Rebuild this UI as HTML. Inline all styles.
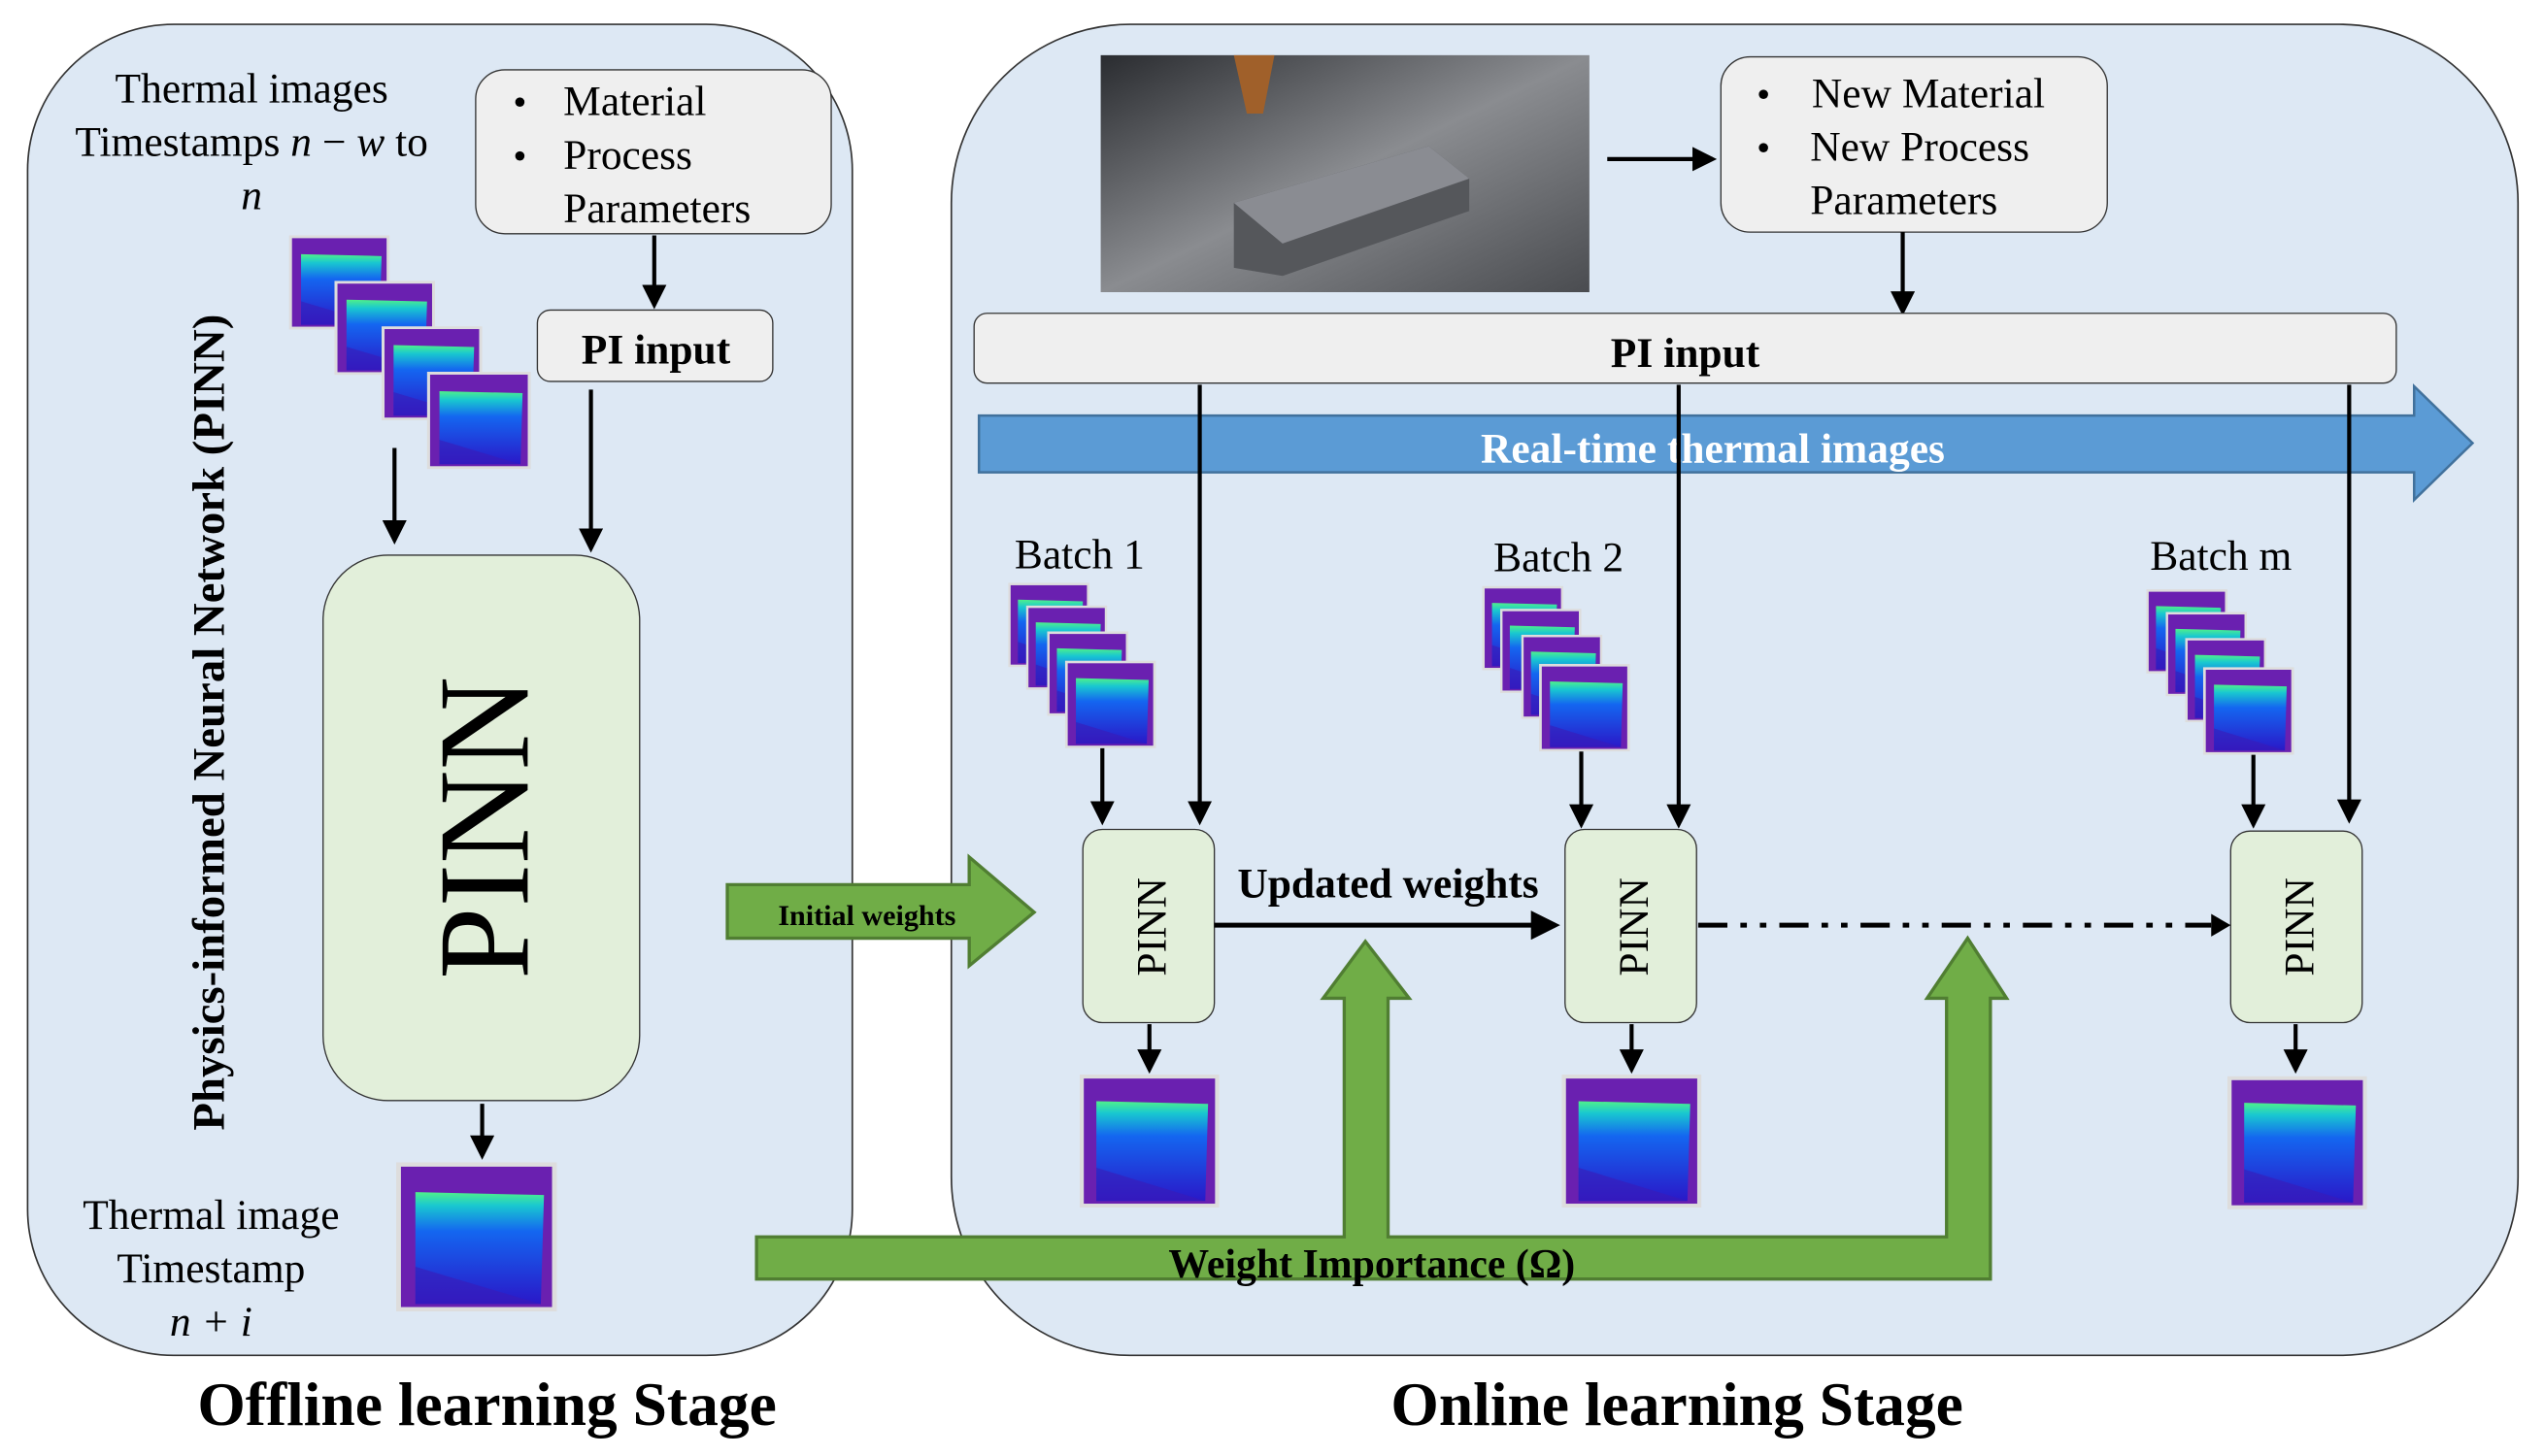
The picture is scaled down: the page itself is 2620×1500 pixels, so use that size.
<!DOCTYPE html>
<html><head><meta charset="utf-8"><style>
html,body{margin:0;padding:0;background:#fff;}
svg{display:block;}
text{font-family:"Liberation Serif",serif;fill:#000;}
.b{font-weight:bold;}
</style></head><body>
<svg width="2620" height="1500" viewBox="0 0 1567 897" preserveAspectRatio="none" xmlns="http://www.w3.org/2000/svg">
<defs>
<marker id="ah" markerWidth="6" markerHeight="6" refX="5" refY="3" orient="auto" markerUnits="strokeWidth"><path d="M0,0 L6,3 L0,6 z" fill="#000"/></marker>
<linearGradient id="tg" x1="0" y1="0" x2="0" y2="1">
<stop offset="0" stop-color="#4ff08a"/><stop offset="0.12" stop-color="#19c8d0"/><stop offset="0.35" stop-color="#1466f0"/><stop offset="1" stop-color="#2a18c8"/></linearGradient>
<linearGradient id="ph" x1="0" y1="0" x2="1" y2="1">
<stop offset="0" stop-color="#2a2c30"/><stop offset="0.5" stop-color="#8a8c90"/><stop offset="1" stop-color="#4a4c50"/></linearGradient>
<symbol id="th" viewBox="0 0 100 100" preserveAspectRatio="none">
<rect x="0" y="0" width="100" height="100" fill="#ddd"/>
<rect x="3" y="3" width="94" height="94" fill="#6a20b0"/>
<path d="M12,20 L92,22 L90,95 L12,95 z" fill="url(#tg)"/>
<path d="M12,70 L90,95 L12,95 z" fill="#3a1ab8" opacity="0.6"/>
</symbol>
</defs>

<rect x="17" y="15" width="508" height="820" rx="90" fill="#dde8f4" stroke="#333" stroke-width="1"/>
<rect x="586" y="15" width="965" height="820" rx="110" fill="#dde8f4" stroke="#333" stroke-width="1"/>

<text x="155" y="63" font-size="26" text-anchor="middle">Thermal images</text>
<text x="155" y="96" font-size="26" text-anchor="middle">Timestamps <tspan font-style="italic">n</tspan> − <tspan font-style="italic">w</tspan> to</text>
<text x="155" y="129" font-size="26" text-anchor="middle" font-style="italic">n</text>

<rect x="293" y="43" width="219" height="101" rx="18" fill="#efefef" stroke="#333" stroke-width="0.8"/>
<text x="316" y="71" font-size="24">•</text><text x="347" y="71" font-size="26">Material</text>
<text x="316" y="104" font-size="24">•</text><text x="347" y="104" font-size="26">Process</text>
<text x="347" y="137" font-size="26">Parameters</text>
<line x1="403" y1="145" x2="403" y2="188" stroke="#000" stroke-width="2.5" marker-end="url(#ah)"/>
<rect x="331" y="191" width="145" height="44" rx="8" fill="#efefef" stroke="#333" stroke-width="0.8"/>
<text x="404" y="224" font-size="26" text-anchor="middle" class="b">PI input</text>

<use href="#th" x="178" y="145" width="62" height="58"/>
<use href="#th" x="206" y="173" width="62" height="58"/>
<use href="#th" x="235" y="201" width="62" height="58"/>
<use href="#th" x="263" y="229" width="64" height="60"/>
<line x1="243" y1="276" x2="243" y2="333" stroke="#000" stroke-width="2.5" marker-end="url(#ah)"/>
<line x1="364" y1="240" x2="364" y2="338" stroke="#000" stroke-width="2.5" marker-end="url(#ah)"/>

<rect x="199" y="342" width="195" height="336" rx="40" fill="#e2efda" stroke="#333" stroke-width="0.8"/>
<text transform="translate(325,510) rotate(-90)" font-size="80" text-anchor="middle">PINN</text>
<line x1="297" y1="680" x2="297" y2="712" stroke="#000" stroke-width="2.5" marker-end="url(#ah)"/>
<use href="#th" x="244" y="716" width="99" height="92"/>
<text x="130" y="757" font-size="26" text-anchor="middle">Thermal image</text>
<text x="130" y="790" font-size="26" text-anchor="middle">Timestamp</text>
<text x="130" y="823" font-size="26" text-anchor="middle" font-style="italic">n + i</text>
<text transform="translate(138,445) rotate(-90)" font-size="28" text-anchor="middle" class="b">Physics-informed Neural Network (PINN)</text>

<text x="300" y="878" font-size="38" text-anchor="middle" class="b">Offline learning Stage</text>
<text x="1033" y="878" font-size="38" text-anchor="middle" class="b">Online learning Stage</text>

<rect x="678" y="34" width="301" height="146" fill="url(#ph)"/>
<path d="M760,165 L760,125 L880,90 L905,110 L905,130 L790,170 z" fill="#55575b"/>
<path d="M760,125 L880,90 L905,110 L790,150 z" fill="#8a8c92"/>
<path d="M760,34 L785,34 L778,70 L768,70 z" fill="#a0602a"/>
<line x1="990" y1="98" x2="1055" y2="98" stroke="#000" stroke-width="2.5" marker-end="url(#ah)"/>
<rect x="1060" y="35" width="238" height="108" rx="18" fill="#efefef" stroke="#333" stroke-width="0.8"/>
<text x="1082" y="66" font-size="24">•</text><text x="1116" y="66" font-size="26">New Material</text>
<text x="1082" y="99" font-size="24">•</text><text x="1115" y="99" font-size="26">New Process</text>
<text x="1115" y="132" font-size="26">Parameters</text>
<line x1="1172" y1="143" x2="1172" y2="192" stroke="#000" stroke-width="2.5" marker-end="url(#ah)"/>
<rect x="600" y="193" width="876" height="43" rx="8" fill="#efefef" stroke="#333" stroke-width="0.8"/>
<text x="1038" y="226" font-size="26" text-anchor="middle" class="b">PI input</text>

<path d="M603,256 L1487,256 L1487,238 L1523,273 L1487,308 L1487,291 L603,291 z" fill="#5b9bd5" stroke="#41719c" stroke-width="1.5"/>
<text x="1055" y="285" font-size="26" text-anchor="middle" class="b" style="fill:#fff">Real-time thermal images</text>

<line x1="739" y1="237" x2="739" y2="506" stroke="#000" stroke-width="2.5" marker-end="url(#ah)"/>
<line x1="1034" y1="237" x2="1034" y2="508" stroke="#000" stroke-width="2.5" marker-end="url(#ah)"/>
<line x1="1447" y1="237" x2="1447" y2="505" stroke="#000" stroke-width="2.5" marker-end="url(#ah)"/>

<text x="665" y="350" font-size="26" text-anchor="middle">Batch 1</text>
<text x="960" y="352" font-size="26" text-anchor="middle">Batch 2</text>
<text x="1368" y="351" font-size="26" text-anchor="middle">Batch m</text>

<g>
<use href="#th" x="621" y="359" width="50" height="52"/><use href="#th" x="632" y="373" width="50" height="52"/><use href="#th" x="645" y="389" width="50" height="52"/><use href="#th" x="656" y="407" width="56" height="54"/>
<use href="#th" x="913" y="361" width="50" height="52"/><use href="#th" x="924" y="375" width="50" height="52"/><use href="#th" x="937" y="391" width="50" height="52"/><use href="#th" x="948" y="409" width="56" height="54"/>
<use href="#th" x="1322" y="363" width="50" height="52"/><use href="#th" x="1334" y="377" width="50" height="52"/><use href="#th" x="1346" y="393" width="50" height="52"/><use href="#th" x="1357" y="411" width="56" height="54"/>
</g>
<line x1="679" y1="461" x2="679" y2="506" stroke="#000" stroke-width="2.5" marker-end="url(#ah)"/>
<line x1="974" y1="463" x2="974" y2="508" stroke="#000" stroke-width="2.5" marker-end="url(#ah)"/>
<line x1="1388" y1="465" x2="1388" y2="508" stroke="#000" stroke-width="2.5" marker-end="url(#ah)"/>

<rect x="667" y="511" width="81" height="119" rx="12" fill="#e2efda" stroke="#333" stroke-width="0.8"/>
<rect x="964" y="511" width="81" height="119" rx="12" fill="#e2efda" stroke="#333" stroke-width="0.8"/>
<rect x="1374" y="512" width="81" height="118" rx="12" fill="#e2efda" stroke="#333" stroke-width="0.8"/>
<text transform="translate(718,571) rotate(-90)" font-size="26" text-anchor="middle">PINN</text>
<text transform="translate(1015,571) rotate(-90)" font-size="26" text-anchor="middle">PINN</text>
<text transform="translate(1425,571) rotate(-90)" font-size="26" text-anchor="middle">PINN</text>

<line x1="708" y1="631" x2="708" y2="659" stroke="#000" stroke-width="2.5" marker-end="url(#ah)"/>
<line x1="1005" y1="631" x2="1005" y2="659" stroke="#000" stroke-width="2.5" marker-end="url(#ah)"/>
<line x1="1414" y1="631" x2="1414" y2="659" stroke="#000" stroke-width="2.5" marker-end="url(#ah)"/>
<use href="#th" x="665" y="662" width="86" height="82"/>
<use href="#th" x="962" y="662" width="86" height="82"/>
<use href="#th" x="1372" y="663" width="86" height="82"/>

<line x1="748" y1="570" x2="958" y2="570" stroke="#000" stroke-width="3" marker-end="url(#ah)"/>
<text x="855" y="553" font-size="26" text-anchor="middle" class="b">Updated weights</text>
<line x1="1046" y1="570" x2="1362" y2="570" stroke="#000" stroke-width="3" stroke-dasharray="18,8,4,8,4,8"/>
<path d="M1362,563 L1374,570 L1362,577 z" fill="#000"/>

<path d="M448,545 L597,545 L597,528 L637,562 L597,595 L597,578 L448,578 z" fill="#70ad47" stroke="#507e32" stroke-width="2"/>
<text x="534" y="570" font-size="18" text-anchor="middle" class="b">Initial weights</text>
<path d="M466,762 L828,762 L828,615 L815,615 L841,580 L868,615 L855,615 L855,762 L1199,762 L1199,615 L1187,615 L1212,578 L1236,615 L1226,615 L1226,788 L466,788 z" fill="#70ad47" stroke="#507e32" stroke-width="2"/>
<text x="845" y="787" font-size="25" text-anchor="middle" class="b">Weight Importance (Ω)</text>
</svg>
</body></html>
